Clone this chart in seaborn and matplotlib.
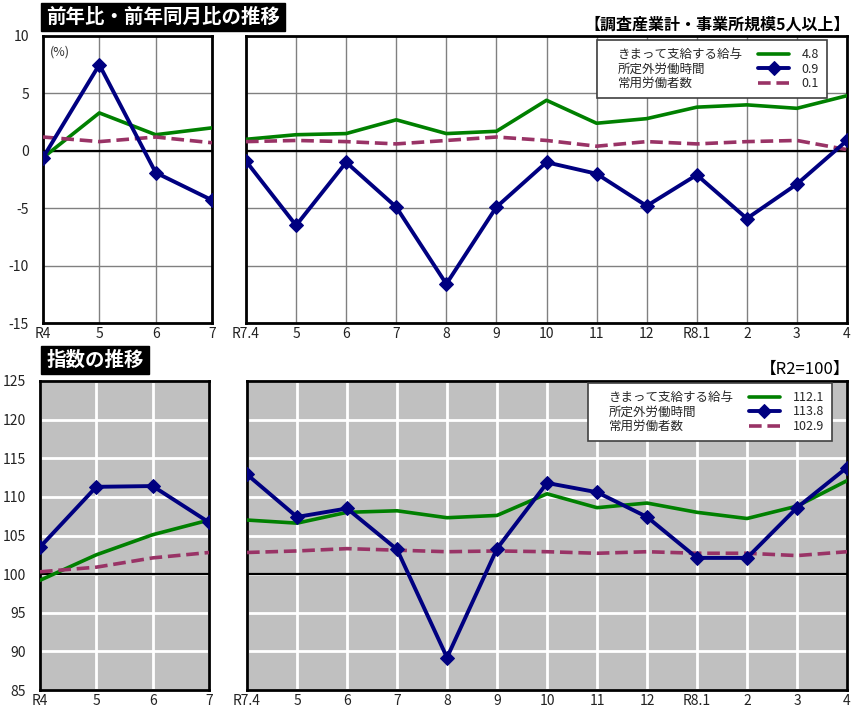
import matplotlib
matplotlib.use("Agg")
import matplotlib.pyplot as plt
from matplotlib.lines import Line2D
import seaborn as sns

series_names = ["きまって支給する給与", "所定外労働時間", "常用労働者数"]
year_labels = ["R4", "5", "6", "7"]
month_labels = ["R7.4", "5", "6", "7", "8", "9", "10", "11", "12", "R8.1", "2", "3", "4"]

# 前年比・前年同月比 (%)
yoy_wage_year = [-0.6, 3.3, 1.4, 2.0]
yoy_overtime_year = [-0.6, 7.5, -1.9, -4.3]
yoy_workers_year = [1.2, 0.8, 1.2, 0.7]
yoy_wage_month = [1.0, 1.4, 1.5, 2.7, 1.5, 1.7, 4.4, 2.4, 2.8, 3.8, 4.0, 3.7, 4.8]
yoy_overtime_month = [-0.9, -6.5, -1.0, -4.9, -11.6, -4.9, -1.0, -2.0, -4.8, -2.1, -5.9, -2.9, 0.9]
yoy_workers_month = [0.8, 0.9, 0.8, 0.6, 0.9, 1.2, 0.9, 0.4, 0.8, 0.6, 0.8, 0.9, 0.1]

# 指数 (R2=100)
idx_wage_year = [99.2, 102.5, 105.1, 107.0]
idx_overtime_year = [103.5, 111.3, 111.4, 106.7]
idx_workers_year = [100.3, 100.9, 102.1, 102.8]
idx_wage_month = [107.0, 106.6, 108.0, 108.2, 107.3, 107.6, 110.4, 108.6, 109.2, 108.0, 107.2, 108.8, 112.1]
idx_overtime_month = [112.9, 107.4, 108.5, 103.2, 89.2, 103.3, 111.8, 110.6, 107.4, 102.1, 102.1, 108.6, 113.8]
idx_workers_month = [102.8, 103.0, 103.3, 103.1, 102.9, 103.0, 102.9, 102.7, 102.9, 102.7, 102.7, 102.4, 102.9]

GREEN = "#008000"
NAVY = "#000080"
PLUM = "#993366"

sns.set_style("white")
plt.rcParams["font.family"] = ["Noto Sans CJK JP", "DejaVu Sans"]
plt.rcParams["axes.unicode_minus"] = False


def draw_panel(ax, labels, wage, overtime, workers, ylim, step, base, shaded, show_y):
    x = list(range(len(labels)))
    sns.lineplot(x=x, y=wage, ax=ax, color=GREEN, lw=2.6, label=series_names[0],
                 legend=False, zorder=3)
    sns.lineplot(x=x, y=overtime, ax=ax, color=NAVY, lw=2.8, marker="D", markersize=7,
                 markeredgecolor=NAVY, label=series_names[1], legend=False, zorder=5)
    sns.lineplot(x=x, y=workers, ax=ax, color=PLUM, lw=2.6, linestyle=(0, (3.5, 1.6)),
                 label=series_names[2], legend=False, zorder=4)
    ax.axhline(base, color="black", lw=1.6, zorder=2)

    ax.set_xlim(0, len(labels) - 1)
    ax.set_ylim(*ylim)
    ax.set_xticks(x)
    ax.set_xticklabels(labels)
    ax.set_yticks(range(ylim[0], ylim[1] + 1, step))
    if not show_y:
        ax.set_yticklabels([])
    ax.set_xlabel("")
    ax.set_ylabel("")
    ax.tick_params(length=0, labelsize=10, colors="#222222")
    ax.tick_params(axis="y", pad=10)
    ax.tick_params(axis="x", pad=3)

    if shaded:
        ax.set_facecolor("#c0c0c0")
        ax.grid(True, color="white", lw=2)
    else:
        ax.set_facecolor("white")
        ax.grid(True, color="#808080", lw=1)
    ax.set_axisbelow(True)
    for sp in ax.spines.values():
        sp.set_visible(True)
        sp.set_color("black")
        sp.set_linewidth(2)


def add_legend(ax, values, anchor):
    # column 1: names (no handle), column 2: line sample + latest value
    lines = ax.get_lines()[:3]
    blanks = [Line2D([], [], linestyle="none") for _ in values]
    leg = ax.legend(blanks + lines, series_names + values, ncol=2,
                    loc="upper right", bbox_to_anchor=anchor, borderaxespad=0,
                    fontsize=9, handlelength=2.5, handletextpad=1.0,
                    columnspacing=1.2, labelspacing=0.12, fancybox=False,
                    edgecolor="#404040", framealpha=1, borderpad=0.65)
    leg.get_frame().set_linewidth(1.2)
    leg.set_zorder(10)
    for item in leg._legend_handle_box.get_children()[0].get_children():
        item.get_children()[0].width = 0


fig = plt.figure(figsize=(8.58, 7.14), dpi=100)
ax_tl = fig.add_axes([0.0501, 0.5476, 0.197, 0.402])
ax_tr = fig.add_axes([0.2867, 0.5476, 0.7005, 0.402])
ax_bl = fig.add_axes([0.0466, 0.0336, 0.197, 0.4328])
ax_br = fig.add_axes([0.2879, 0.0336, 0.6993, 0.4328])

draw_panel(ax_tl, year_labels, yoy_wage_year, yoy_overtime_year, yoy_workers_year,
           (-15, 10), 5, 0, False, True)
draw_panel(ax_tr, month_labels, yoy_wage_month, yoy_overtime_month, yoy_workers_month,
           (-15, 10), 5, 0, False, False)
draw_panel(ax_bl, year_labels, idx_wage_year, idx_overtime_year, idx_workers_year,
           (85, 125), 5, 100, True, True)
draw_panel(ax_br, month_labels, idx_wage_month, idx_overtime_month, idx_workers_month,
           (85, 125), 5, 100, True, False)

add_legend(ax_tr, [f"{yoy_wage_month[-1]}", f"{yoy_overtime_month[-1]}", f"{yoy_workers_month[-1]}"],
           (0.967, 0.986))
add_legend(ax_br, [f"{idx_wage_month[-1]}", f"{idx_overtime_month[-1]}", f"{idx_workers_month[-1]}"],
           (0.975, 0.994))

ax_tl.text(0.04, 0.945, "(%)", transform=ax_tl.transAxes, fontsize=9, color="#333333",
           va="center")

title_box = dict(facecolor="black", edgecolor="black", boxstyle="square,pad=0.25")
fig.text(0.054, 1 - 17 / 714, "前年比・前年同月比の推移", color="white", fontsize=14,
         fontweight="bold", va="center", ha="left", bbox=title_box)
fig.text(0.054, 1 - 360 / 714, "指数の推移", color="white", fontsize=14,
         fontweight="bold", va="center", ha="left", bbox=title_box)
fig.text(0.991, 1 - 25 / 714, "【調査産業計・事業所規模5人以上】", color="black", fontsize=11.5,
         fontweight="bold", va="center", ha="right")
fig.text(0.991, 1 - 369 / 714, "【R2=100】", color="black", fontsize=12,
         va="center", ha="right")

fig.savefig("out.png", dpi=100)
